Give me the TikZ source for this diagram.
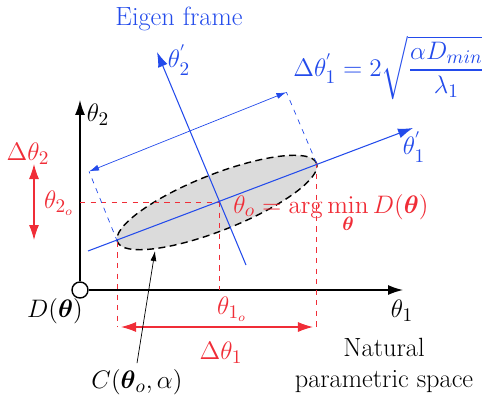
\documentclass[tikz,border=0pt]{standalone}
\usepackage{amsmath, amssymb}
\usepackage{tikz}
\usetikzlibrary{shapes, arrows.meta, positioning, calc}
\definecolor{eigenBlue}{RGB}{35, 75, 235}
\definecolor{paramRed}{RGB}{240, 45, 55}
\tikzset{
  every node/.style={font=\fontsize{15}{17.6}\selectfont},
  axis/.style={-{Latex[length=3mm, width=2mm]}, thick, black},
  eigenaxis/.style={-{Latex[length=3mm, width=2mm]}, semithick, eigenBlue},
  eigenguide/.style={dashed, thin, eigenBlue},
  guide/.style={dashed, thin, paramRed},
  reddim/.style={{Latex[length=3mm, width=2mm]}-{Latex[length=3mm, width=2mm]}, semithick, paramRed}
}

\begin{document}
\begin{tikzpicture}[x=0.02cm, y=0.02cm]
      \useasboundingbox (0,0) rectangle (482,-395);

      % natural frame
      \node[draw, circle, thick, inner sep=0pt, minimum size=0.32cm] (origin) at (80,-290) {};
      \coordinate (t1end) at (403,-290);
      \coordinate (t2end) at (80,-100);
      \draw[axis] (origin.east) -- (t1end);
      \draw[axis] (origin.north) -- (t2end);
      \node (t1lab) at (402,-311) {$\theta_1$};
      \node (t2lab) at (98,-115) {$\theta_2$};
      \node (dlab) at (55,-311) {$D(\boldsymbol{\theta})$};

      % confidence ellipse
      \coordinate (ellcenter) at (217,-202.5);
      \coordinate (thetao) at (219,-202);
      \draw[dash pattern=on 4pt off 2.5pt, thick, fill=black!14, rotate around={21.6:(ellcenter)}] (ellcenter) ellipse [x radius=107, y radius=28];
      \coordinate (lend) at ($(ellcenter)+(201.6:107)$);
      \coordinate (rend) at ($(ellcenter)+(21.6:107)$);

      % red projections
      \coordinate (t2o) at (80,-202);
      \coordinate (t1o) at (219,-290);
      \coordinate (lfoot) at (lend |- 0,-327);
      \coordinate (rfoot) at (rend |- 0,-327);
      \draw[guide] (t2o) -- (thetao);
      \draw[guide] (thetao) -- (t1o);
      \draw[guide] (lend) -- (lfoot);
      \draw[guide] (rend) -- (rfoot);
      \draw[reddim, shorten <=2pt, shorten >=2pt] (lfoot) -- (rfoot);
      \coordinate (d2top) at (34,-164);
      \coordinate (d2bot) at (34,-240);
      \draw[reddim] (d2top) -- (d2bot);
      \node[paramRed] (d2lab) at (28,-154) {$\Delta\theta_2$};
      \node[paramRed] (t2olab) at (59,-203) {$\theta_{2_o}$};
      \node[paramRed] (t1olab) at (232,-309) {$\theta_{1_o}$};
      \node[paramRed] (d1lab) at (221,-353) {$\Delta\theta_1$};
      \node[paramRed, anchor=base west, inner sep=0pt] (argmin) at (233,-213) {$\theta_o = \arg\min\limits_{\boldsymbol{\theta}} D(\boldsymbol{\theta})$};

      % eigen frame
      \coordinate (e1start) at (88,-251);
      \coordinate (e1end) at (413,-128);
      \coordinate (e2start) at (246,-265);
      \coordinate (e2end) at (157,-52);
      \draw[eigenaxis] (e1start) -- (e1end);
      \draw[eigenaxis] (e2start) -- (e2end);
      \node[eigenBlue] (e1lab) at (414,-147) {$\theta_1^{'}$};
      \node[eigenBlue] (e2lab) at (179,-60) {$\theta_2^{'}$};
      \node[eigenBlue] (frame) at (179,-19) {Eigen frame};
      \coordinate (ltop) at ($(lend)+(112:76)$);
      \coordinate (rtop) at ($(rend)+(113:77)$);
      \draw[eigenguide] (lend) -- (ltop);
      \draw[eigenguide] (rend) -- (rtop);
      \draw[{Latex[length=2mm, width=1.2mm]}-{Latex[length=2mm, width=1.2mm]}, thin, eigenBlue] (ltop) -- (rtop);
      \node[eigenBlue, anchor=west, inner sep=0pt] (width) at (293,-68) {$\Delta\theta_1^{'} = 2\sqrt{\dfrac{\alpha D_{min}}{\lambda_1}}$};

      % labels
      \coordinate (cpoint) at (155,-251);
      \node (clab) at (137,-382) {$C(\boldsymbol{\theta}_o, \alpha)$};
      \draw[-{Latex[length=2mm, width=1.2mm]}, thin] (clab.north) -- (cpoint);
      \node[align=center] (space) at (384,-365) {Natural\\parametric space};
    \end{tikzpicture}
\end{document}
